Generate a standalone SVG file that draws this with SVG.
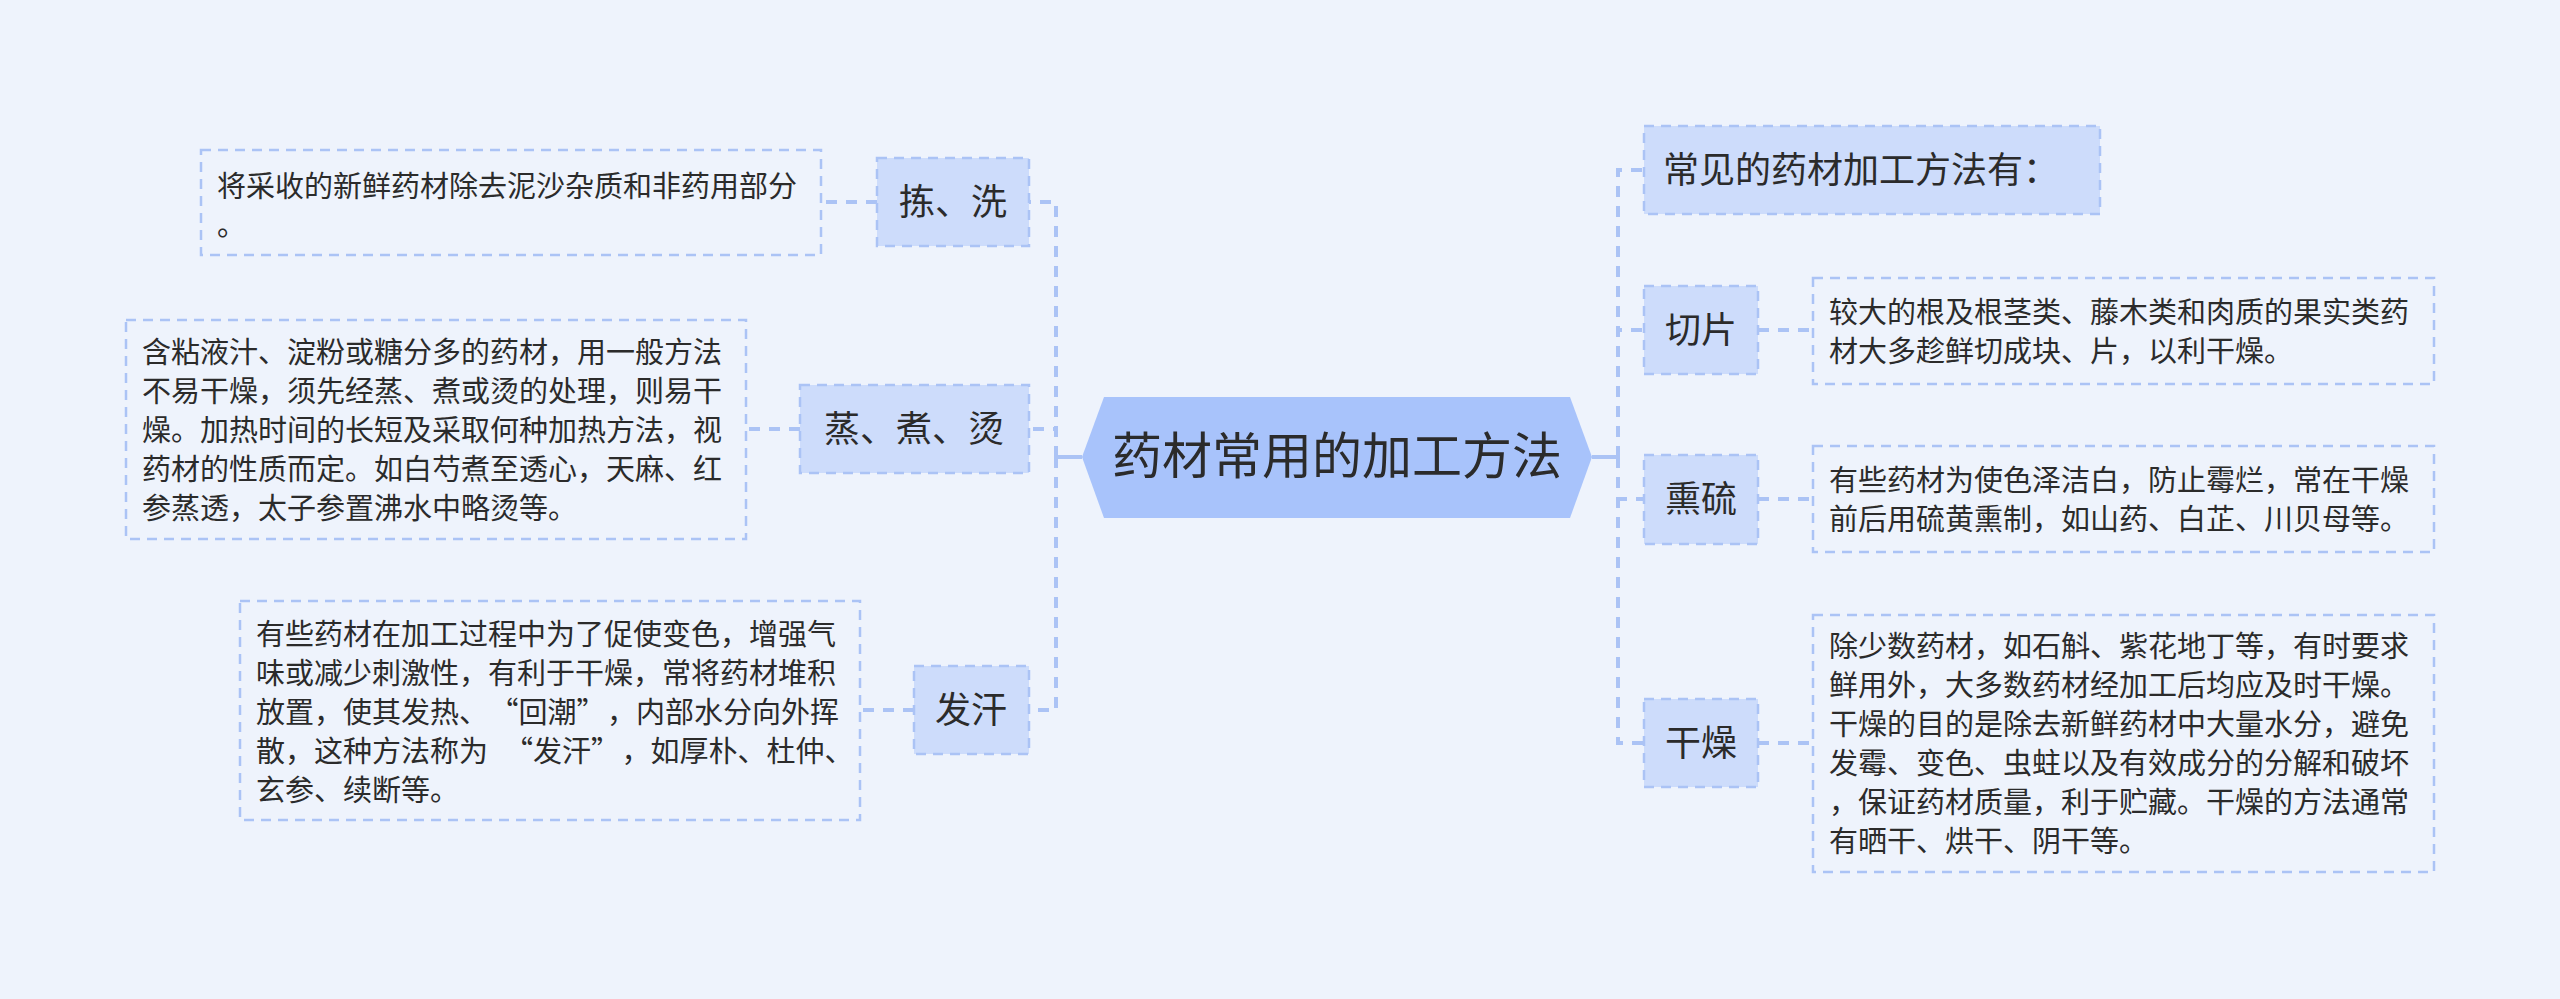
<svg xmlns="http://www.w3.org/2000/svg" width="2560" height="999" viewBox="0 0 2560 999">
<style>
.bg{fill:#eef3fc}
.conn{fill:none;stroke:#abc3f5;stroke-width:4;stroke-dasharray:11 9}
.solid{fill:none;stroke:#abc3f5;stroke-width:4}
.topic{fill:#cddcfb;stroke:#abc3f5;stroke-width:2.5;stroke-dasharray:10 7}
.note{fill:none;stroke:#abc3f5;stroke-width:2.5;stroke-dasharray:10 7}
.root{fill:#a8c3fb}
text{font-family:"Noto Sans CJK SC","Liberation Sans",sans-serif;fill:#2b2b2b}
.t36{font-size:36px;text-anchor:middle}
.t29{font-size:29px}
.t50{font-size:50px;text-anchor:middle}
</style>
<rect class="bg" x="0" y="0" width="2560" height="999"/>
<g id="connectors">
<path class="solid" d="M1082 457 H1056"/>
<path class="conn" d="M1056 457 V202 H1029"/>
<path class="conn" d="M1056 457 V429 H1029"/>
<path class="conn" d="M1056 457 V710 H1029"/>
<path class="solid" d="M1592 457 H1618"/>
<path class="conn" d="M1618 457 V170 H1644"/>
<path class="conn" d="M1618 457 V330 H1644"/>
<path class="conn" d="M1618 457 V499 H1644"/>
<path class="conn" d="M1618 457 V743 H1644"/>
<path class="conn" d="M877 202 H821"/>
<path class="conn" d="M800 429 H746"/>
<path class="conn" d="M914 710 H860"/>
<path class="conn" d="M1758 330 H1813"/>
<path class="conn" d="M1758 499 H1813"/>
<path class="conn" d="M1758 743 H1813"/>
</g>
<g id="root">
<polygon class="root" points="1082,457 1104,397 1570,397 1592,457 1570,518 1104,518"/>
<text class="t50" x="1337" y="474">药材常用的加工方法</text>
</g>
<g id="n-jianxi">
<rect class="topic" x="877" y="158" width="152" height="88"/>
<text class="t36" x="953" y="215">拣、洗</text>
</g>
<g id="n-jianxi-note">
<rect class="note" x="201" y="150" width="620" height="105"/>
<text class="t29" x="217" y="197">将采收的新鲜药材除去泥沙杂质和非药用部分</text>
<text class="t29" x="217" y="236">。</text>
</g>
<g id="n-zheng">
<rect class="topic" x="800" y="385" width="229" height="88"/>
<text class="t36" x="914" y="442">蒸、煮、烫</text>
</g>
<g id="n-zheng-note">
<rect class="note" x="126" y="320" width="620" height="219"/>
<text class="t29" x="142" y="363">含粘液汁、淀粉或糖分多的药材，用一般方法</text>
<text class="t29" x="142" y="402">不易干燥，须先经蒸、煮或烫的处理，则易干</text>
<text class="t29" x="142" y="441">燥。加热时间的长短及采取何种加热方法，视</text>
<text class="t29" x="142" y="480">药材的性质而定。如白芍煮至透心，天麻、红</text>
<text class="t29" x="142" y="519">参蒸透，太子参置沸水中略烫等。</text>
</g>
<g id="n-fahan">
<rect class="topic" x="914" y="666" width="115" height="88"/>
<text class="t36" x="971" y="723">发汗</text>
</g>
<g id="n-fahan-note">
<rect class="note" x="240" y="601" width="620" height="219"/>
<text class="t29" x="256" y="645">有些药材在加工过程中为了促使变色，增强气</text>
<text class="t29" x="256" y="684">味或减少刺激性，有利于干燥，常将药材堆积</text>
<text class="t29" x="256" y="723">放置，使其发热、<tspan dx="16">“回潮”</tspan><tspan dx="16">，内部水分向外挥</tspan></text>
<text class="t29" x="256" y="762">散，这种方法称为<tspan dx="16">“发汗”</tspan><tspan dx="16">，如厚朴、杜仲、</tspan></text>
<text class="t29" x="256" y="801">玄参、续断等。</text>
</g>
<g id="n-changjian">
<rect class="topic" x="1644" y="126" width="456" height="88"/>
<text class="t36" x="1663" y="183" style="text-anchor:start">常见的药材加工方法有：</text>
</g>
<g id="n-qiepian">
<rect class="topic" x="1644" y="286" width="114" height="88"/>
<text class="t36" x="1701" y="343">切片</text>
</g>
<g id="n-qiepian-note">
<rect class="note" x="1813" y="278" width="621" height="106"/>
<text class="t29" x="1829" y="323">较大的根及根茎类、藤木类和肉质的果实类药</text>
<text class="t29" x="1829" y="362">材大多趁鲜切成块、片，以利干燥。</text>
</g>
<g id="n-xunliu">
<rect class="topic" x="1644" y="455" width="114" height="89"/>
<text class="t36" x="1701" y="512">熏硫</text>
</g>
<g id="n-xunliu-note">
<rect class="note" x="1813" y="446" width="621" height="106"/>
<text class="t29" x="1829" y="491">有些药材为使色泽洁白，防止霉烂，常在干燥</text>
<text class="t29" x="1829" y="530">前后用硫黄熏制，如山药、白芷、川贝母等。</text>
</g>
<g id="n-ganzao">
<rect class="topic" x="1644" y="699" width="114" height="88"/>
<text class="t36" x="1701" y="756">干燥</text>
</g>
<g id="n-ganzao-note">
<rect class="note" x="1813" y="615" width="621" height="257"/>
<text class="t29" x="1829" y="657">除少数药材，如石斛、紫花地丁等，有时要求</text>
<text class="t29" x="1829" y="696">鲜用外，大多数药材经加工后均应及时干燥。</text>
<text class="t29" x="1829" y="735">干燥的目的是除去新鲜药材中大量水分，避免</text>
<text class="t29" x="1829" y="774">发霉、变色、虫蛀以及有效成分的分解和破坏</text>
<text class="t29" x="1829" y="813">，保证药材质量，利于贮藏。干燥的方法通常</text>
<text class="t29" x="1829" y="852">有晒干、烘干、阴干等。</text>
</g>
</svg>
